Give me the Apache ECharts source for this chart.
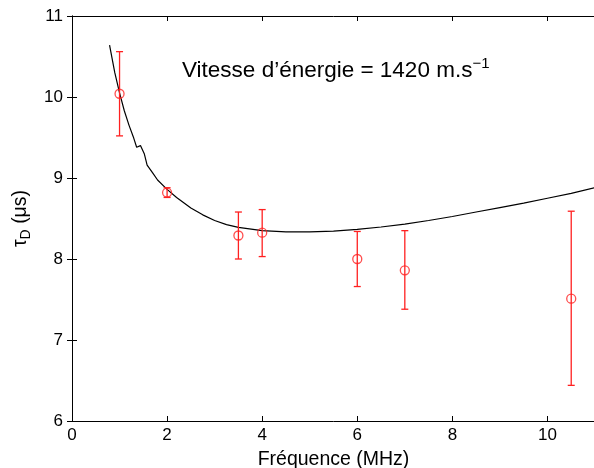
<!DOCTYPE html>
<html><head><meta charset="utf-8">
<script src="https://cdn.jsdelivr.net/npm/echarts@6/dist/echarts.min.js"></script>
<style>html,body{margin:0;padding:0;background:#fff}#c{width:594px;height:468px}</style>
</head><body><div id="c"></div>
<script>
// Measured points
const freqPts = [1, 2, 3.5, 4, 6, 7, 10.5];
const tauPts  = [10.04, 8.82, 8.29, 8.325, 8.0, 7.86, 7.51];
const errLow  = [9.52, 8.76, 8.0, 8.03, 7.66, 7.38, 6.44];
const errHigh = [10.56, 8.88, 8.58, 8.61, 8.34, 8.35, 8.59];
// Model curve
const curveX = [0.79, 0.9, 1.0, 1.1, 1.2, 1.3, 1.36, 1.44, 1.47, 1.52, 1.58, 1.7, 1.8, 2.0, 2.2, 2.5, 2.75, 3.0, 3.25, 3.5, 4.0, 4.5, 5.0, 5.5, 6.0, 6.5, 7.0, 7.5, 8.0, 8.5, 9.0, 9.5, 10.0, 10.5, 11.0];
const curveY = [10.64, 10.3, 10.05, 9.83, 9.65, 9.49, 9.38, 9.40, 9.41, 9.30, 9.16, 9.06, 8.975, 8.86, 8.76, 8.63, 8.545, 8.475, 8.425, 8.39, 8.35, 8.335, 8.335, 8.345, 8.365, 8.395, 8.43, 8.475, 8.525, 8.58, 8.635, 8.69, 8.75, 8.81, 8.88];
const xTicks = [0, 2, 4, 6, 8, 10];
const yTicks = [6, 7, 8, 9, 10, 11];

const FONT = 'Liberation Sans';
const chart = echarts.init(document.getElementById('c'));
const axisCommon = {
  axisLine: {show: true, lineStyle: {color: '#000', width: 1}},
  axisTick: {show: true, inside: true, length: 5, lineStyle: {color: '#000'}},
  splitLine: {show: false}
};
chart.setOption({
  animation: false,
  textStyle: {fontFamily: FONT},
  grid: {left: 72, top: 16, width: 523, height: 405, containLabel: false, outerBoundsMode: 'none'},
  xAxis: [
    Object.assign({type: 'value', min: 0, max: 11, interval: 2, position: 'bottom',
      name: 'Fréquence (MHz)', nameLocation: 'middle', nameGap: 29,
      nameTextStyle: {fontSize: 19.5, color: '#000', fontFamily: FONT},
      axisLabel: {fontSize: 17, color: '#000', margin: 6, fontFamily: FONT,
        formatter: v => xTicks.includes(v) ? String(v) : ''}}, axisCommon),
    Object.assign({type: 'value', min: 0, max: 11, interval: 2, position: 'top',
      axisLabel: {show: false}}, axisCommon)
  ],
  yAxis: [
    Object.assign({type: 'value', min: 6, max: 11, interval: 1, position: 'left',
      name: '{t|τ}{s|D}{t| (μs)}', nameLocation: 'middle', nameGap: 38, nameRotate: 90,
      nameTextStyle: {rich: {t: {fontSize: 19.5, color: '#000', fontFamily: FONT},
        s: {fontSize: 14, color: '#000', fontFamily: FONT, padding: [12, 0, 0, 0]}}},
      axisLabel: {fontSize: 17, color: '#000', margin: 9, fontFamily: FONT,
        formatter: v => yTicks.includes(v) ? String(v) : ''}}, axisCommon),
    Object.assign({type: 'value', min: 6, max: 11, interval: 1, position: 'right',
      axisLabel: {show: false}}, axisCommon)
  ],
  graphic: [{
    type: 'text', left: 182, top: 56,
    style: {
      text: '{t|Vitesse d’énergie = 1420 m.s}{sup|−1}',
      rich: {t: {fontSize: 22.5, fill: '#000', fontFamily: FONT},
             sup: {fontSize: 15, fill: '#000', fontFamily: FONT, padding: [0, 0, 14, 0]}}
    }
  }],
  series: [
    {
      type: 'line', xAxisIndex: 0, yAxisIndex: 0,
      data: curveX.map((x, i) => [x, curveY[i]]),
      showSymbol: false, symbol: 'none',
      lineStyle: {color: '#000', width: 1.2}, smooth: false, z: 2
    },
    {
      type: 'custom', xAxisIndex: 0, yAxisIndex: 0,
      data: freqPts.map((x, i) => [x, errLow[i], errHigh[i]]),
      renderItem: function (params, api) {
        const lo = api.coord([api.value(0), api.value(1)]);
        const hi = api.coord([api.value(0), api.value(2)]);
        const w = 3.5;
        const st = {stroke: '#ff2020', lineWidth: 1.3, fill: null};
        return {type: 'group', children: [
          {type: 'line', shape: {x1: hi[0], y1: hi[1], x2: lo[0], y2: lo[1]}, style: st},
          {type: 'line', shape: {x1: hi[0]-w, y1: hi[1], x2: hi[0]+w, y2: hi[1]}, style: st},
          {type: 'line', shape: {x1: lo[0]-w, y1: lo[1], x2: lo[0]+w, y2: lo[1]}, style: st}
        ]};
      }, z: 3
    },
    {
      type: 'scatter', xAxisIndex: 0, yAxisIndex: 0,
      data: freqPts.map((x, i) => [x, tauPts[i]]),
      symbol: 'circle', symbolSize: 9,
      itemStyle: {color: 'rgba(0,0,0,0)', borderColor: '#ff2020', borderWidth: 1.3}, z: 4
    }
  ]
});
</script></body></html>
